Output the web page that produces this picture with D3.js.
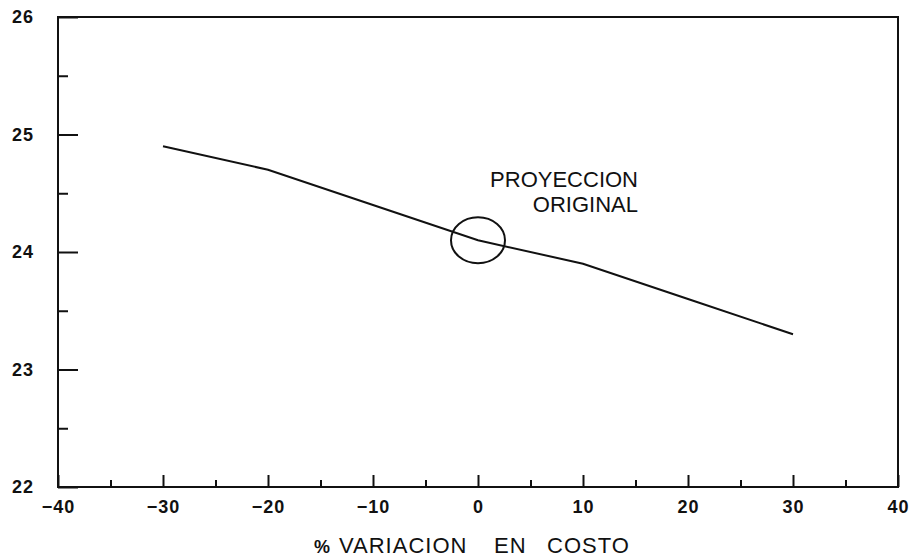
<!DOCTYPE html>
<html lang="es">
<head>
<meta charset="UTF-8">
<title>Variación en costo</title>
<script src="https://cdn.jsdelivr.net/npm/d3@7"></script>
<style>
  body { margin: 0; background: #fff; }
  svg { display: block; }
</style>
</head>
<body>
<svg width="911" height="560"></svg>
<script>
// datos
var variacion = [-30, -20, -10, 0, 10, 20, 30];
var valores = [24.9, 24.7, 24.4, 24.1, 23.9, 23.6, 23.3];
var xTicks = [-40, -30, -20, -10, 0, 10, 20, 30, 40];
var yTicks = [22, 23, 24, 25, 26];
var puntoOriginal = [0, 24.1];

var svg = d3.select('svg');
var m = { left: 58, right: 898, top: 17, bottom: 487 };

var x = d3.scaleLinear().domain([-40, 40]).range([m.left, m.right]);
var y = d3.scaleLinear().domain([22, 26]).range([m.bottom, m.top]);

var font = '"Liberation Sans", Arial, sans-serif';

// marco
svg.append('rect')
    .attr('x', m.left).attr('y', m.top)
    .attr('width', m.right - m.left).attr('height', m.bottom - m.top)
    .attr('fill', 'none').attr('stroke', '#111').attr('stroke-width', 2);

// eje x: ticks hacia adentro
var xAxis = d3.axisBottom(x)
    .tickValues(xTicks)
    .tickSize(-12)
    .tickPadding(13)
    .tickFormat(function (d) { return d < 0 ? '\u2212' + Math.abs(d) : d; });
svg.append('g')
    .attr('transform', 'translate(0,' + m.bottom + ')')
    .call(xAxis);
// ticks menores
svg.append('g')
    .attr('transform', 'translate(0,' + m.bottom + ')')
    .call(d3.axisBottom(x).tickValues(d3.range(-35, 40, 10)).tickSize(-7).tickFormat(''));

// eje y
var yAxis = d3.axisLeft(y)
    .tickValues(yTicks)
    .tickSize(-20)
    .tickPadding(24)
    .tickFormat(d3.format('d'));
svg.append('g')
    .attr('transform', 'translate(' + m.left + ',0)')
    .call(yAxis);
svg.append('g')
    .attr('transform', 'translate(' + m.left + ',0)')
    .call(d3.axisLeft(y).tickValues([22.5, 23.5, 24.5, 25.5]).tickSize(-10).tickFormat(''));

svg.selectAll('.domain').remove();
svg.selectAll('.tick line').attr('stroke', '#111').attr('stroke-width', 2);
svg.selectAll('.tick text')
    .attr('fill', '#111')
    .style('font-family', font)
    .style('font-size', '18px')
    .style('font-weight', 'bold')
    .style('letter-spacing', '1px');

// linea de datos
var line = d3.line()
    .x(function (d, i) { return x(variacion[i]); })
    .y(function (d) { return y(d); });
svg.append('path')
    .datum(valores)
    .attr('d', line)
    .attr('fill', 'none')
    .attr('stroke', '#111')
    .attr('stroke-width', 2);

// circulo proyeccion original
svg.append('ellipse')
    .attr('cx', x(puntoOriginal[0]))
    .attr('cy', y(puntoOriginal[1]))
    .attr('rx', 27).attr('ry', 23)
    .attr('fill', 'none')
    .attr('stroke', '#111')
    .attr('stroke-width', 2);

var nota = svg.append('text')
    .attr('text-anchor', 'end')
    .attr('fill', '#111')
    .style('font-family', font)
    .style('font-size', '22px');
nota.append('tspan').attr('x', 638).attr('y', 187).text('PROYECCION');
nota.append('tspan').attr('x', 638).attr('y', 212).text('ORIGINAL');

// titulo eje x
var titulo = svg.append('text')
    .attr('y', 553)
    .attr('fill', '#111')
    .style('font-family', font)
    .style('font-size', '22px')
    .style('letter-spacing', '1px');
titulo.append('tspan').attr('x', 314).style('font-size', '18px').style('font-weight', 'bold').text('%');
titulo.append('tspan').attr('x', 339).text('VARIACION');
titulo.append('tspan').attr('x', 494).text('EN');
titulo.append('tspan').attr('x', 547).text('COSTO');
</script>
</body>
</html>
